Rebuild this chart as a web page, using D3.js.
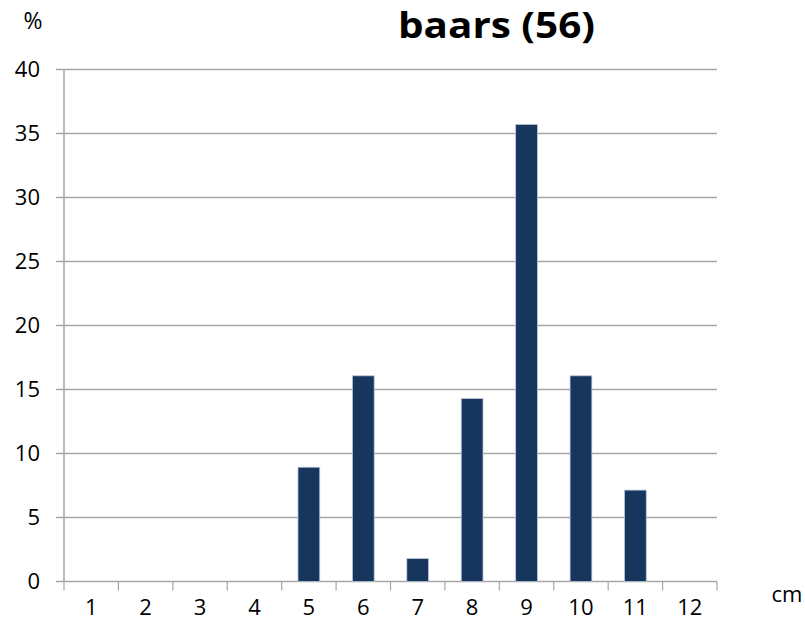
<!DOCTYPE html>
<html><head><meta charset="utf-8">
<script src="https://cdn.jsdelivr.net/npm/d3@7/dist/d3.min.js"></script>
<style>body{margin:0;background:#fff}svg{display:block}text{font-family:"Open Sans",sans-serif;fill:#000}</style>
</head><body><svg id="c" width="805" height="624"></svg>
<script>
const categories = ["1","2","3","4","5","6","7","8","9","10","11","12"];
const values = [0,0,0,0,8.93,16.07,1.79,14.29,35.71,16.07,7.14,0];
const yTicks = [0,5,10,15,20,25,30,35,40];
const title = "baars (56)";

const svg = d3.select("#c");
const L=64, R=717, T=69.5, B=581.5;
const x = d3.scaleBand().domain(categories).range([L,R]).paddingInner(0).paddingOuter(0);
const y = d3.scaleLinear().domain([0,40]).range([B,T]);

// gridlines
svg.append("g").selectAll("line").data(yTicks).join("line")
  .attr("x1",56).attr("x2",R).attr("y1",d=>y(d)).attr("y2",d=>y(d))
  .attr("stroke","#a6a6a6").attr("stroke-width",1.5);
// y axis line
svg.append("line").attr("x1",L).attr("x2",L).attr("y1",T).attr("y2",B).attr("stroke","#a6a6a6").attr("stroke-width",1.5);
// x ticks
const bounds = categories.map(c=>x(c)).concat([R]);
svg.append("g").selectAll("line").data(bounds).join("line")
  .attr("x1",d=>d).attr("x2",d=>d).attr("y1",B).attr("y2",B+9)
  .attr("stroke","#a6a6a6").attr("stroke-width",1.2);

// bars
const bw = x.bandwidth()*0.4;
svg.append("g").selectAll("rect").data(values.map((v,i)=>({c:categories[i],v})).filter(d=>d.v>0)).join("rect")
  .attr("x",d=>x(d.c)+x.bandwidth()/2-bw/2).attr("width",bw)
  .attr("y",d=>y(d.v)).attr("height",d=>B-y(d.v))
  .attr("fill","#17365d").attr("stroke","#b9c6d8").attr("stroke-width",0.8);

// y labels
svg.append("g").selectAll("text").data(yTicks).join("text")
  .attr("x",40).attr("y",d=>y(d)).attr("dy","0.36em").attr("text-anchor","end")
  .style("font-size","22px").text(d=>d);
// x labels
svg.append("g").selectAll("text").data(categories).join("text")
  .attr("x",d=>x(d)+x.bandwidth()/2).attr("y",607).attr("dy","0.36em").attr("text-anchor","middle")
  .style("font-size","22px").text(d=>d);

svg.append("text").attr("x",33).attr("y",21).attr("dy","0.36em").attr("text-anchor","middle").style("font-size","23px").text("%");
svg.append("text").attr("x",787).attr("y",594).attr("dy","0.36em").attr("text-anchor","middle").style("font-size","22px").text("cm");
svg.append("text").attr("x",398).attr("y",25).attr("dy","0.36em").attr("text-anchor","start")
  .attr("textLength",197).attr("lengthAdjust","spacingAndGlyphs")
  .style("font-size","36px").style("font-weight","bold").text(title);
</script></body></html>
